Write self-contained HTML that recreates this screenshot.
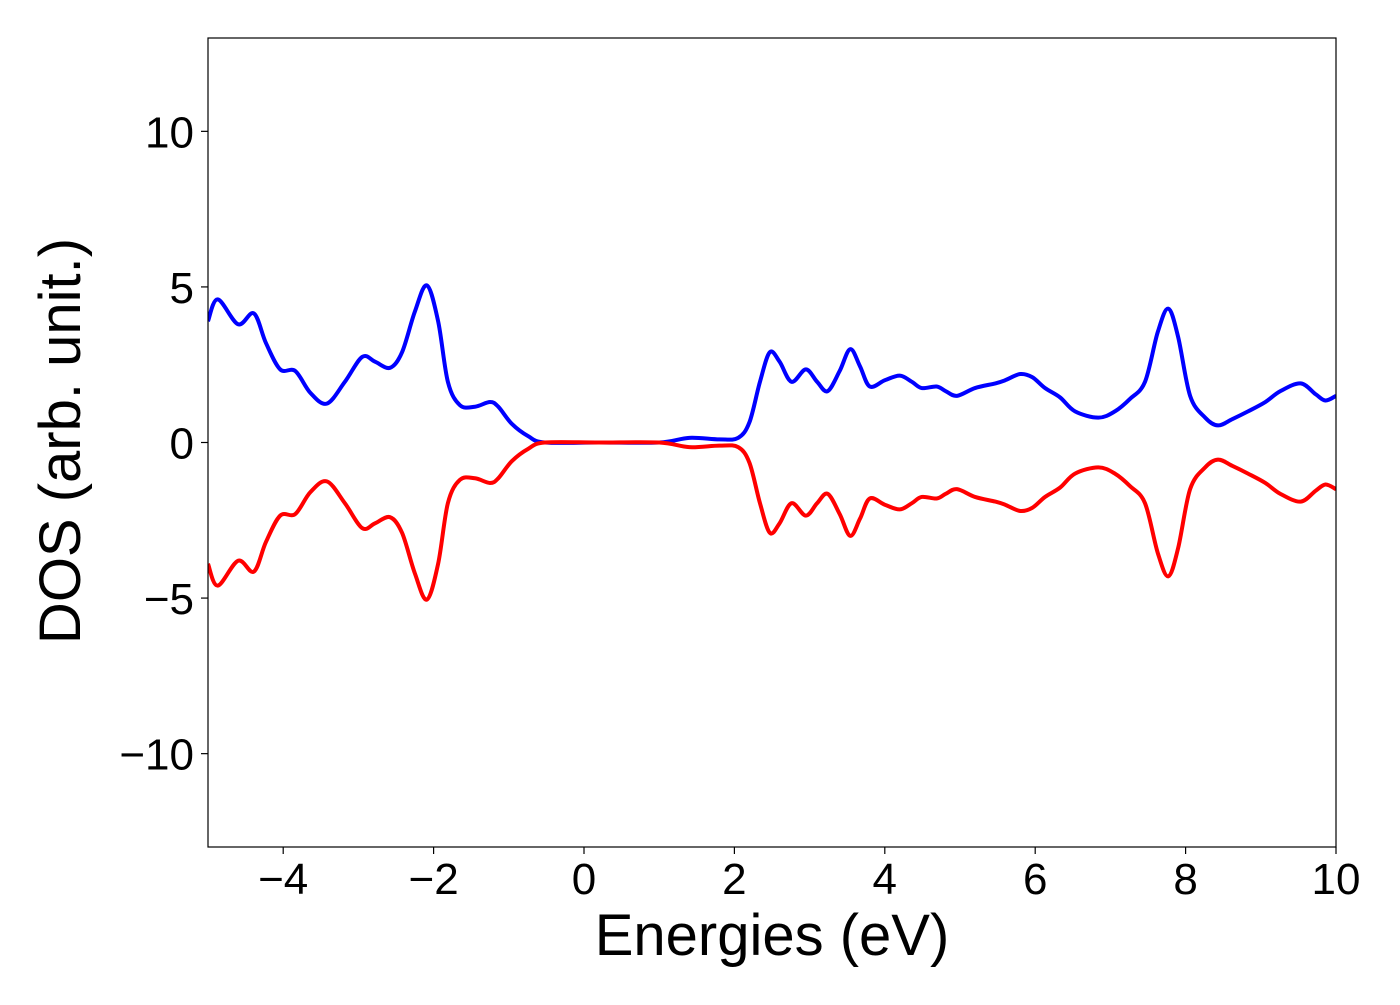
<!DOCTYPE html>
<html><head><meta charset="utf-8"><style>
body{margin:0;background:#fff;}
svg text{font-family:"Liberation Sans","DejaVu Sans",sans-serif;fill:#000;}
</style></head><body>
<svg id="chart" width="1400" height="1000" xmlns="http://www.w3.org/2000/svg">
<rect width="1400" height="1000" fill="#fff"/>
<g id="plot"></g>
<g id="axes"></g>
<text x="772" y="955" font-size="58" text-anchor="middle">Energies (eV)</text>
<text transform="translate(80,441) rotate(-90)" font-size="58" text-anchor="middle">DOS (arb. unit.)</text>
</svg>
<script>
const energies=[-5,-4.87,-4.6,-4.39,-4.23,-4.04,-3.84,-3.64,-3.42,-3.18,-2.95,-2.78,-2.58,-2.42,-2.25,-2.09,-1.94,-1.81,-1.65,-1.45,-1.25,-1.14,-0.96,-0.74,-0.52,0.2,1.0,1.4,1.8,2.05,2.2,2.34,2.47,2.6,2.76,2.95,3.1,3.24,3.4,3.54,3.67,3.8,4.0,4.2,4.36,4.49,4.69,4.81,4.96,5.2,5.47,5.6,5.8,5.96,6.13,6.33,6.53,6.84,7.06,7.26,7.46,7.63,7.77,7.9,8.06,8.26,8.43,8.62,8.83,9.06,9.26,9.53,9.73,9.86,10];
const dosUp=[3.9,4.6,3.8,4.15,3.2,2.35,2.3,1.6,1.25,1.95,2.75,2.6,2.4,2.9,4.2,5.05,3.9,1.95,1.2,1.15,1.3,1.15,0.6,0.2,0,0,0,0.15,0.1,0.15,0.65,1.95,2.9,2.6,1.95,2.35,1.95,1.65,2.3,3.0,2.45,1.8,2.0,2.15,1.95,1.75,1.8,1.65,1.5,1.75,1.9,2.0,2.2,2.1,1.75,1.45,1.0,0.8,1.0,1.4,1.95,3.55,4.3,3.4,1.5,0.8,0.55,0.75,1.0,1.3,1.65,1.9,1.55,1.35,1.5];
const dosDown=[-3.9,-4.6,-3.8,-4.15,-3.2,-2.35,-2.3,-1.6,-1.25,-1.95,-2.75,-2.6,-2.4,-2.9,-4.2,-5.05,-3.9,-1.95,-1.2,-1.15,-1.3,-1.15,-0.6,-0.2,0,0,0,-0.15,-0.1,-0.15,-0.65,-1.95,-2.9,-2.6,-1.95,-2.35,-1.95,-1.65,-2.3,-3.0,-2.45,-1.8,-2.0,-2.15,-1.95,-1.75,-1.8,-1.65,-1.5,-1.75,-1.9,-2.0,-2.2,-2.1,-1.75,-1.45,-1.0,-0.8,-1.0,-1.4,-1.95,-3.55,-4.3,-3.4,-1.5,-0.8,-0.55,-0.75,-1.0,-1.3,-1.65,-1.9,-1.55,-1.35,-1.5];
const xTicks=[-4,-2,0,2,4,6,8,10];
const xTickLabels=["\u22124","\u22122","0","2","4","6","8","10"];
const yTicks=[-10,-5,0,5,10];
const yTickLabels=["\u221210","\u22125","0","5","10"];
const X0=208,X1=1336,Y0=38,Y1=847,xMin=-5,xMax=10,yMin=-13,yMax=13;
const sx=v=>X0+(v-xMin)/(xMax-xMin)*(X1-X0);
const sy=v=>Y1-(v-yMin)/(yMax-yMin)*(Y1-Y0);
const NS="http://www.w3.org/2000/svg";
function pathD(xs,ys){
  const p=xs.map((x,i)=>[sx(x),sy(ys[i])]);
  let d="M"+p[0][0]+","+p[0][1];
  for(let i=0;i<p.length-1;i++){
    const a=p[i-1]||p[i],b=p[i],c=p[i+1],e=p[i+2]||c;
    const c1=[b[0]+(c[0]-a[0])/6,b[1]+(c[1]-a[1])/6];
    const c2=[c[0]-(e[0]-b[0])/6,c[1]-(e[1]-b[1])/6];
    d+=" C"+c1+" "+c2+" "+c;
  }
  return d;
}
const plot=document.getElementById('plot');
const clip=document.createElementNS(NS,'clipPath');clip.setAttribute('id','cp');
const cr=document.createElementNS(NS,'rect');cr.setAttribute('x',X0);cr.setAttribute('y',Y0);cr.setAttribute('width',X1-X0);cr.setAttribute('height',Y1-Y0);
clip.appendChild(cr);plot.appendChild(clip);
[[dosUp,'#0000ff','spin-up-line'],[dosDown,'#ff0000','spin-down-line']].forEach(([ys,col,nm])=>{
  const el=document.createElementNS(NS,'path');
  
  
  el.setAttribute('d',pathD(energies,ys));el.setAttribute('fill','none');el.setAttribute('stroke',col);
  el.setAttribute('stroke-width','4');el.setAttribute('clip-path','url(#cp)');el.setAttribute('stroke-linejoin','round');
  plot.appendChild(el);
});
const axes=document.getElementById('axes');
const fr=document.createElementNS(NS,'rect');


fr.setAttribute('x',X0);fr.setAttribute('y',Y0);fr.setAttribute('width',X1-X0);fr.setAttribute('height',Y1-Y0);
fr.setAttribute('fill','none');fr.setAttribute('stroke','#000');fr.setAttribute('stroke-width','1.2');
axes.appendChild(fr);
xTicks.forEach((v,i)=>{
  const t=document.createElementNS(NS,'line');
  
  
  t.setAttribute('x1',sx(v));t.setAttribute('x2',sx(v));t.setAttribute('y1',Y1);t.setAttribute('y2',Y1+7);t.setAttribute('stroke','#000');t.setAttribute('stroke-width','1.2');
  axes.appendChild(t);
  const l=document.createElementNS(NS,'text');
  
  
  l.setAttribute('x',sx(v));l.setAttribute('y',894);l.setAttribute('font-size','44');l.setAttribute('text-anchor','middle');
  l.textContent=xTickLabels[i];axes.appendChild(l);
});
yTicks.forEach((v,i)=>{
  const t=document.createElementNS(NS,'line');
  
  
  t.setAttribute('x1',X0-7);t.setAttribute('x2',X0);t.setAttribute('y1',sy(v));t.setAttribute('y2',sy(v));t.setAttribute('stroke','#000');t.setAttribute('stroke-width','1.2');
  axes.appendChild(t);
  const l=document.createElementNS(NS,'text');
  
  
  l.setAttribute('x',X0-14);l.setAttribute('y',sy(v)+16);l.setAttribute('font-size','44');l.setAttribute('text-anchor','end');
  l.textContent=yTickLabels[i];axes.appendChild(l);
});
</script>
</body></html>
